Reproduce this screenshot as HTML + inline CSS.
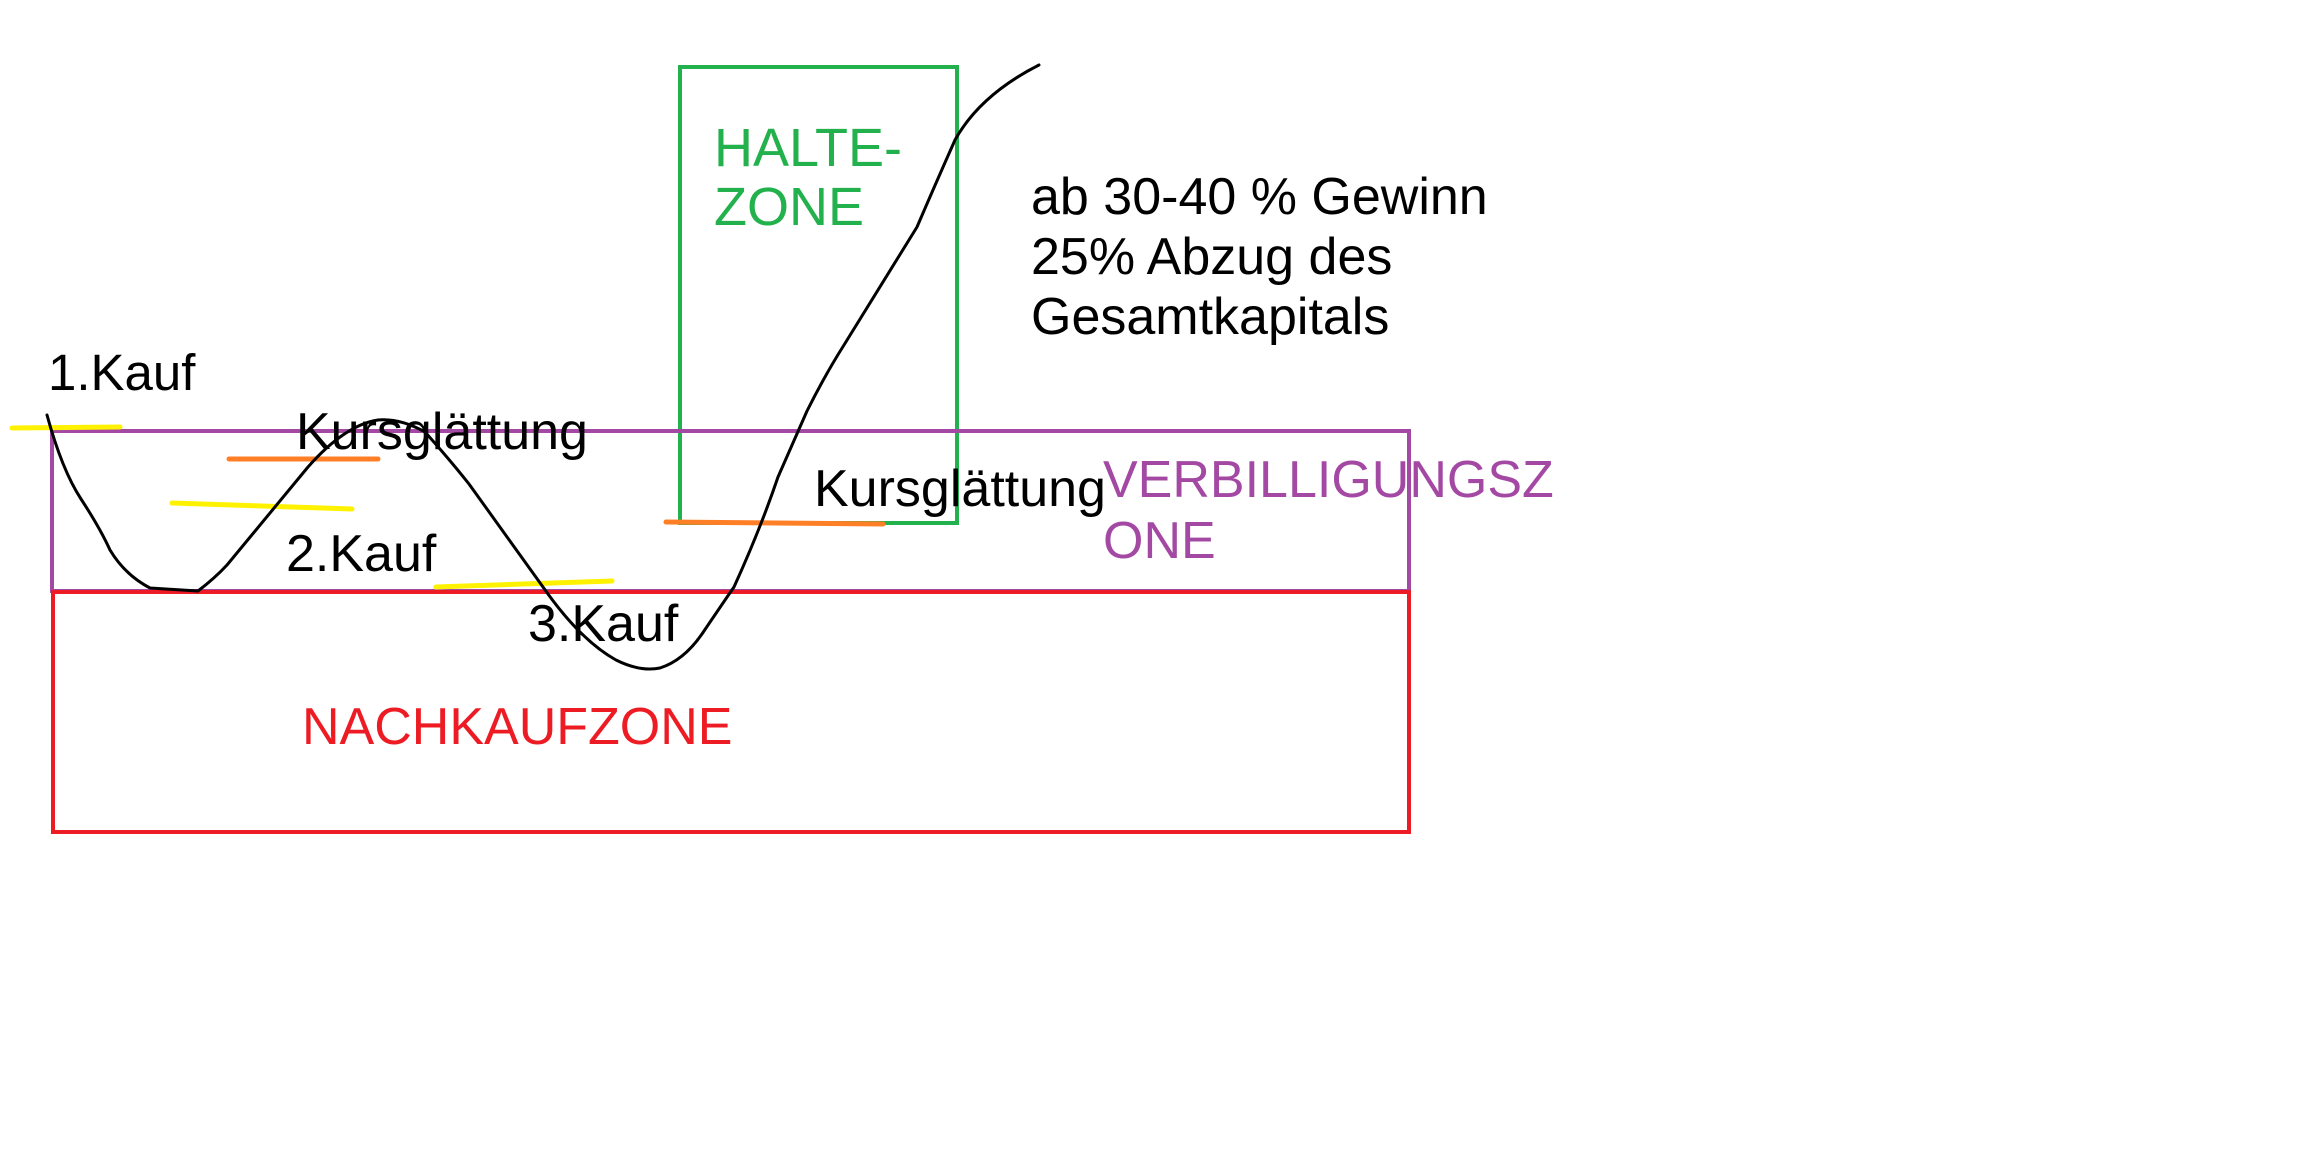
<!DOCTYPE html>
<html><head><meta charset="utf-8"><style>
body{margin:0;background:#fff;}
svg{display:block}
text{font-family:"Liberation Sans",sans-serif;}
</style></head><body>
<svg width="2301" height="1152" viewBox="0 0 2301 1152" xmlns="http://www.w3.org/2000/svg">
<rect x="0" y="0" width="2301" height="1152" fill="#fff"/>
<rect x="680" y="67" width="277" height="456" fill="none" stroke="#22b14c" stroke-width="4"/>
<rect x="52" y="431" width="1357" height="160" fill="none" stroke="#a349a4" stroke-width="4"/>
<rect x="53" y="592" width="1356" height="240" fill="none" stroke="#ed1c24" stroke-width="4"/>
<g stroke-linecap="round" stroke-width="5" fill="none">
<line x1="12" y1="428" x2="120" y2="427" stroke="#fff200"/>
<line x1="229" y1="459" x2="378" y2="459" stroke="#ff7f27"/>
<line x1="172" y1="503" x2="352" y2="509" stroke="#fff200"/>
<line x1="436" y1="587" x2="612" y2="581" stroke="#fff200"/>
<line x1="666" y1="522" x2="883" y2="524" stroke="#ff7f27"/>
</g>
<path d="M47,415 Q62,470 81,499 T110,550 Q125,575 150,588 L198,591 Q215,578 227,565 L308,467 Q345,425 378,420 Q400,418 425,432 Q450,460 469,484 L543,587 Q580,640 616,660 Q640,672 660,668 Q685,660 704,631 Q725,600 734,587 Q760,530 778,477 L807,411 Q825,375 844,345 L917,227 Q935,185 955,140 Q980,95 1039,65" fill="none" stroke="#000" stroke-width="3" stroke-linejoin="round" stroke-linecap="round"/>
<text x="714" y="166" font-size="54" fill="#22b14c">HALTE-</text>
<text x="714" y="225" font-size="54" fill="#22b14c">ZONE</text>
<text x="1031" y="214" font-size="52" fill="#000">ab 30-40 % Gewinn</text>
<text x="1031" y="274" font-size="52" fill="#000">25% Abzug des</text>
<text x="1031" y="334" font-size="52" fill="#000">Gesamtkapitals</text>
<text x="48" y="390" font-size="51" fill="#000">1.Kauf</text>
<text x="296" y="449" font-size="52" fill="#000">Kursglättung</text>
<text x="814" y="506" font-size="52" fill="#000">Kursglättung</text>
<text x="286" y="571" font-size="52" fill="#000">2.Kauf</text>
<text x="528" y="641" font-size="52" fill="#000">3.Kauf</text>
<text x="1103" y="497" font-size="52" fill="#a349a4">VERBILLIGUNGSZ</text>
<text x="1103" y="558" font-size="52" fill="#a349a4">ONE</text>
<text x="302" y="744" font-size="52" fill="#ed1c24">NACHKAUFZONE</text>
</svg>
</body></html>
